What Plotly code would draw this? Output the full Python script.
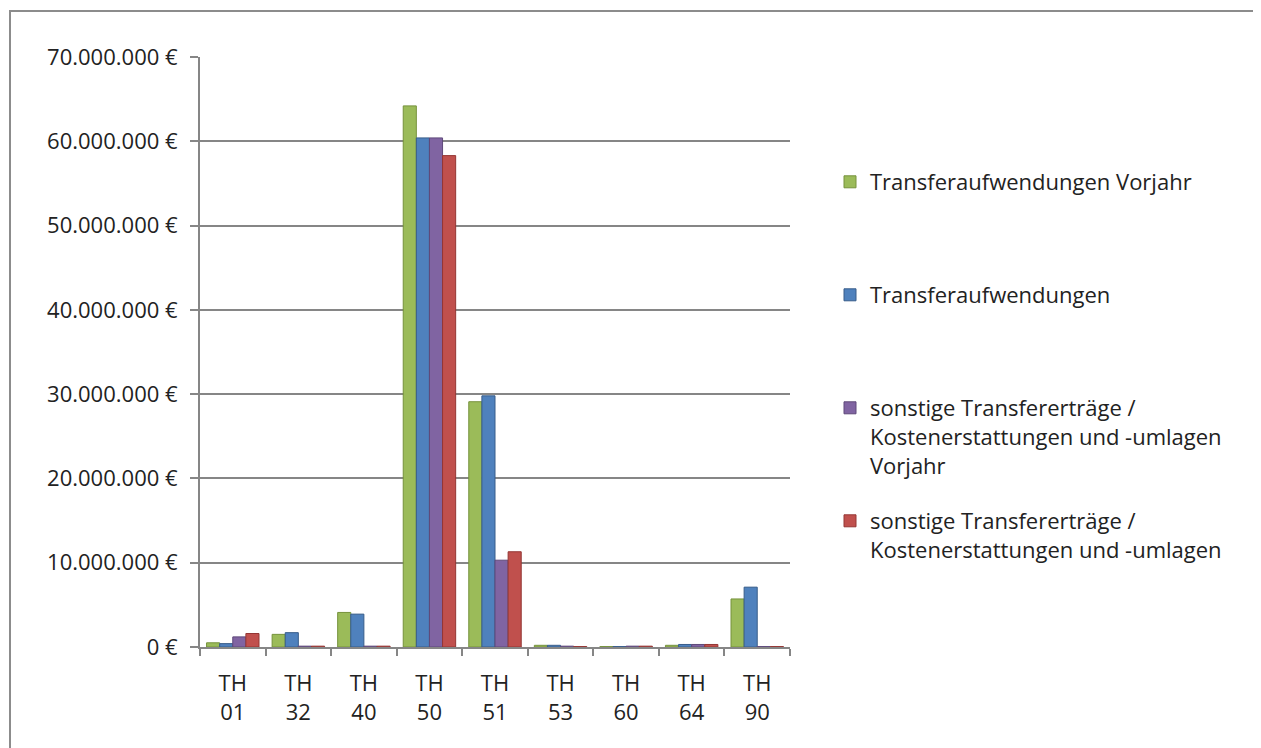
import plotly.graph_objects as go

categories = ["TH<br>01", "TH<br>32", "TH<br>40", "TH<br>50", "TH<br>51", "TH<br>53", "TH<br>60", "TH<br>64", "TH<br>90"]

series_names = [
    "Transferaufwendungen Vorjahr",
    "Transferaufwendungen",
    "sonstige Transfererträge /<br>Kostenerstattungen und -umlagen<br>Vorjahr",
    "sonstige Transfererträge /<br>Kostenerstattungen und -umlagen",
]

transfer_vorjahr = [500000, 1500000, 4100000, 64200000, 29100000, 200000, 50000, 200000, 5700000]
transfer = [400000, 1700000, 3900000, 60400000, 29800000, 200000, 50000, 300000, 7100000]
sonstige_vorjahr = [1200000, 100000, 100000, 60400000, 10300000, 100000, 100000, 300000, 50000]
sonstige = [1600000, 100000, 100000, 58300000, 11300000, 50000, 100000, 300000, 50000]

series_values = [transfer_vorjahr, transfer, sonstige_vorjahr, sonstige]
colors = ["#9BBB59", "#4F81BD", "#8064A2", "#C0504D"]
edge_colors = ["#76923C", "#385D8A", "#5F497A", "#943634"]

tick_vals = [0, 10000000, 20000000, 30000000, 40000000, 50000000, 60000000, 70000000]
tick_text = ["0 €", "10.000.000 €", "20.000.000 €", "30.000.000 €", "40.000.000 €",
             "50.000.000 €", "60.000.000 €", "70.000.000 €"]

# page has an 8px body margin; work in figure coordinates = screen - 8
OFF = 8
W, H = 1261 - OFF, 748 - OFF
L, R, T, B = 200 - OFF, 790 - OFF, 57 - OFF, 647 - OFF
pw, ph = R - L, B - T

legend_names = ["legend", "legend2", "legend3", "legend4"]
legend_top_screen = [161, 274, 387, 500]

fig = go.Figure()
for name, vals, c, ec, lg in zip(series_names, series_values, colors, edge_colors, legend_names):
    fig.add_trace(go.Bar(
        x=categories, y=vals, name=name,
        marker=dict(color=c, line=dict(color=ec, width=1)),
        legend=lg, showlegend=True,
    ))

font_fam = "Open Sans, Noto Sans, sans-serif"
txt_col = "#222222"
FS = 22

layout_legends = {}
for lg, ypx in zip(legend_names, legend_top_screen):
    layout_legends[lg] = dict(
        x=(830 - OFF - L) / pw, xanchor="left",
        y=(B - (ypx - OFF)) / ph, yanchor="top",
        font=dict(family=font_fam, size=FS, color=txt_col),
        bgcolor="rgba(0,0,0,0)",
        itemwidth=30, valign="top",
        tracegroupgap=0,
        visible=True,
    )

# frame around the chart area (only top and left visible)
fx0 = (10 - OFF - L) / pw
fx1 = (W + 30 - L) / pw
fy1 = (B - (11 - OFF)) / ph
fy0 = (B - (H + 30)) / ph

fig.update_layout(
    width=W, height=H,
    showlegend=True,
    margin=dict(l=L, r=W - R, t=T, b=H - B),
    paper_bgcolor="white", plot_bgcolor="white",
    barmode="group", bargap=0.2, bargroupgap=0.0,
    font=dict(family=font_fam, size=FS, color=txt_col),
    xaxis=dict(
        showline=True, linecolor="#868686", linewidth=2,
        ticks="outside", tickson="boundaries", ticklen=7, tickcolor="#868686", tickwidth=2,
        tickfont=dict(family=font_fam, size=FS, color=txt_col),
        ticklabelstandoff=16,
        showgrid=False,
    ),
    yaxis=dict(
        range=[0, 70000000], tickvals=tick_vals, ticktext=tick_text,
        showline=True, linecolor="#868686", linewidth=2,
        ticks="outside", ticklen=8, tickcolor="#868686", tickwidth=2,
        ticklabelstandoff=8,
        showgrid=True, gridcolor="#868686", gridwidth=2,
        zeroline=False,
        tickfont=dict(family=font_fam, size=FS, color=txt_col),
    ),
    shapes=[dict(type="rect", xref="paper", yref="paper",
                 x0=fx0, x1=fx1, y0=fy0, y1=fy1,
                 line=dict(color="#8C8C8C", width=2), layer="below")],
    **layout_legends,
)

fig.write_html("out.html")
